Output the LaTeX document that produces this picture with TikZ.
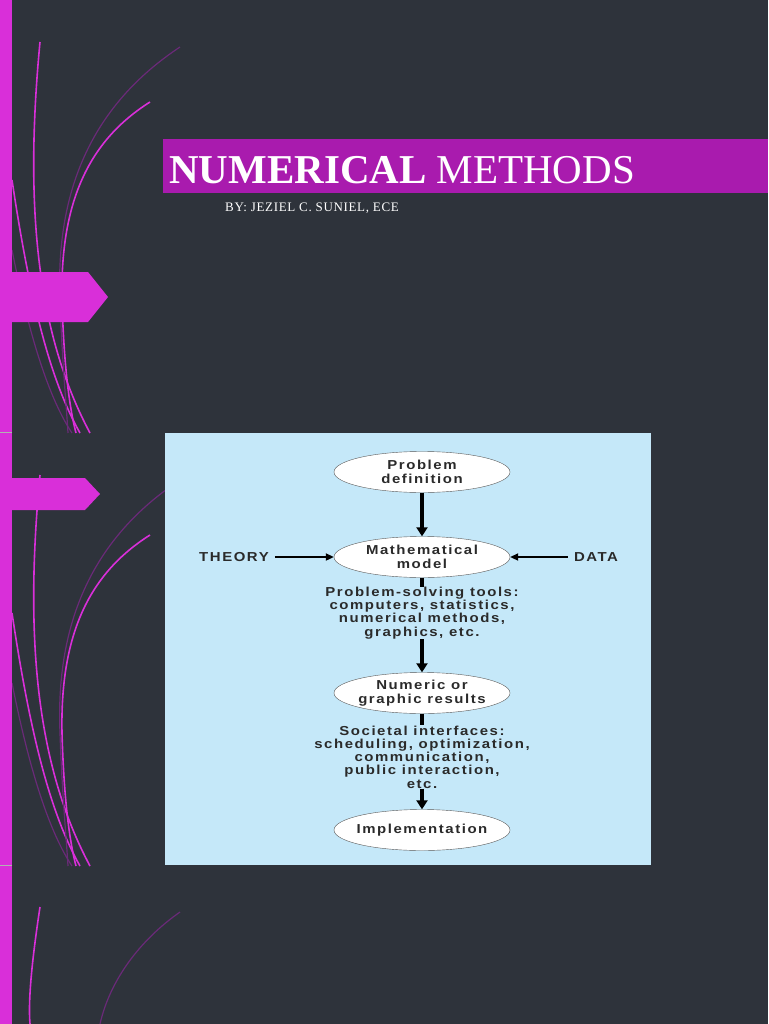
\documentclass[tikz,border=0pt]{standalone}
\usepackage{fontspec}
\setmainfont{Liberation Serif}
\newfontfamily\diag[LetterSpace=12,FakeStretch=1.15]{Liberation Sans}
\newfontfamily\subt[LetterSpace=5]{Liberation Serif}
\usetikzlibrary{shapes.geometric,arrows.meta}
\definecolor{bg}{HTML}{2E333B}
\definecolor{mag}{HTML}{D92FD9}
\definecolor{ban}{HTML}{A91BAE}
\definecolor{dim}{HTML}{6A2A78}
\definecolor{sky}{HTML}{C5E8F9}
\definecolor{ink}{HTML}{2A2A2A}
\tikzset{
  ell/.style={ellipse,draw=gray!70!black,fill=white,minimum width=176pt,minimum height=41pt,inner xsep=-10pt,inner ysep=0pt,font=\diag\bfseries\fontsize{13}{13.5}\selectfont,text=ink,align=center},
  lbl/.style={font=\diag\bfseries\fontsize{13}{13.3}\selectfont,text=ink,align=center,inner sep=0pt},
  big/.style={line width=3.5pt,-{Triangle[length=9pt,width=11pt]}},
  thin/.style={line width=2pt,-{Triangle[length=8pt,width=7pt]}},
  curveB/.style={mag,line width=1.6pt},
  curveD/.style={dim,line width=1.2pt},
}
\newcommand{\swirl}[1]{%
 \begin{scope}[yshift=#1]
  \clip (12,0) rectangle (200,-433);
  \draw[curveB] (40,-42) .. controls (25,-200) and (35,-330) .. (90,-433);
  \draw[curveB] (12,-180) .. controls (30,-300) and (50,-380) .. (80,-433);
  \draw[curveD] (12,-250) .. controls (30,-340) and (50,-400) .. (72,-433);
  \draw[curveD] (180,-47) .. controls (100,-100) and (55,-180) .. (60,-300) .. controls (62,-360) and (66,-400) .. (68,-433);
  \draw[curveB] (150,-102) .. controls (90,-140) and (60,-200) .. (62,-300) .. controls (64,-370) and (70,-410) .. (76,-433);
 \end{scope}}
\begin{document}
\begin{tikzpicture}[x=1pt,y=1pt]
\fill[bg] (0,0) rectangle (768,-1024);
\useasboundingbox (0,0) rectangle (768,-1024);
\swirl{0pt}
\swirl{-433pt}
\begin{scope}\clip (12,-865) rectangle (200,-1024);\draw[curveB] (40,-907) .. controls (32,-960) and (28,-1000) .. (30,-1024);
\draw[curveD] (180,-912) .. controls (140,-940) and (110,-980) .. (100,-1024);\end{scope}
\fill[mag] (0,0) rectangle (12,-1024);
\fill[mag] (0,-272) -- (88,-272) -- (108,-297) -- (88,-322) -- (0,-322) -- cycle;
\fill[mag] (0,-478) -- (85,-478) -- (100,-494) -- (85,-510) -- (0,-510) -- cycle;
\draw[gray!60,line width=0.6pt] (0,-432) -- (12,-432) (0,-865) -- (12,-865);
% title
\fill[ban] (163,-139) rectangle (768,-193);
\node[anchor=base west,text=white,inner sep=0pt,font=\fontsize{41}{43}\selectfont] (title) at (169,-184) {\textbf{NUMERICAL} METHODS};
\node[anchor=base west,text=white,inner sep=0pt,font=\subt\fontsize{13}{14}\selectfont] (by) at (225,-212) {BY: JEZIEL C. SUNIEL, ECE};
% diagram
\fill[sky] (165,-433) rectangle (651,-865);
\node[ell] (pd) at (422,-472) {Problem\\definition};
\node[ell] (mm) at (422,-557) {Mathematical\\model};
\node[ell] (nr) at (422,-693) {Numeric or\\graphic results};
\node[ell] (im) at (422,-830) {Implementation};
\node[lbl] (th) at (234,-557) {THEORY};
\node[lbl] (da) at (596,-557) {DATA};
\node[lbl] (pt) at (422,-613) {Problem-solving tools:\\computers, statistics,\\numerical methods,\\graphics, etc.};
\node[lbl] (si) at (422,-757) {Societal interfaces:\\scheduling, optimization,\\communication,\\public interaction,\\etc.};
\draw[big] (pd) -- (mm);
\draw[line width=3.5pt] (mm.south) -- (pt.north);
\draw[big] (pt) -- (nr);
\draw[line width=3.5pt] (nr.south) -- (si.north);
\draw[big] (si) -- (im);
\draw[thin] (th.east)++(6,0) -- (mm.west);
\draw[thin] (da.west)++(-6,0) -- (mm.east);
\end{tikzpicture}
\end{document}
